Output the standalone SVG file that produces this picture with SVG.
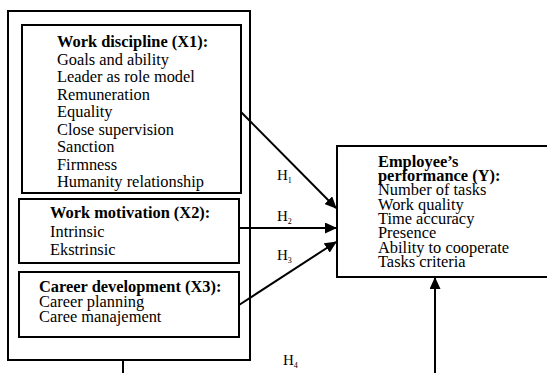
<svg xmlns="http://www.w3.org/2000/svg" width="547" height="373" viewBox="0 0 547 373">
<style>
text{font-family:"Liberation Serif","Times New Roman",serif;font-size:16.4px;fill:#000}
.b{font-weight:bold}
.box{fill:none;stroke:#000;stroke-width:2}
.ln{stroke:#000;stroke-width:2;fill:none}
.h{font-size:15px}
.s{font-size:8px}
</style>
<defs>
<marker id="a" viewBox="0 0 12 11" refX="11" refY="5.5" markerWidth="12" markerHeight="11" orient="auto" markerUnits="userSpaceOnUse">
<path d="M0,0 L12,5.5 L0,11 z" fill="#000"/>
</marker>
</defs>
<rect width="547" height="373" fill="#fff"/>
<g id="outer"><rect class="box" x="8" y="11" width="242" height="349"/></g>
<g id="x1">
<rect class="box" x="22" y="25" width="219" height="168"/>
<text x="57" y="47" class="b">Work discipline (X1):</text>
<text x="57" y="64.5">Goals and ability</text>
<text x="57" y="82">Leader as role model</text>
<text x="57" y="99.5">Remuneration</text>
<text x="57" y="117">Equality</text>
<text x="57" y="134.5">Close supervision</text>
<text x="57" y="152">Sanction</text>
<text x="57" y="169.5">Firmness</text>
<text x="57" y="187">Humanity relationship</text>
</g>
<g id="x2">
<rect class="box" x="19" y="199" width="220" height="64"/>
<text x="50" y="218" class="b">Work motivation (X2):</text>
<text x="50" y="237">Intrinsic</text>
<text x="50" y="255">Ekstrinsic</text>
</g>
<g id="x3">
<rect class="box" x="19" y="272" width="220" height="65"/>
<text x="39" y="292" class="b">Career development (X3):</text>
<text x="39" y="307">Career planning</text>
<text x="39" y="322">Caree manajement</text>
</g>
<g id="y">
<rect class="box" x="337" y="146" width="230" height="131"/>
<text x="378" y="167" class="b">Employee’s</text>
<text x="378" y="181" class="b">performance (Y):</text>
<text x="378" y="195">Number of tasks</text>
<text x="378" y="209.5">Work quality</text>
<text x="378" y="224">Time accuracy</text>
<text x="378" y="238">Presence</text>
<text x="378" y="252.5">Ability to cooperate</text>
<text x="378" y="267">Tasks criteria</text>
</g>
<g id="connectors">
<path class="ln" d="M241,112 L336,208" marker-end="url(#a)"/>
<path class="ln" d="M239,228 L336,228" marker-end="url(#a)"/>
<path class="ln" d="M239,305 L336,242" marker-end="url(#a)"/>
<path class="ln" d="M123,360 L123,373"/>
<path class="ln" d="M435,373 L435,278" marker-end="url(#a)"/>
</g>
<g id="labels">
<text x="277" y="180" class="h">H<tspan class="s" dy="3">1</tspan></text>
<text x="277" y="221" class="h">H<tspan class="s" dy="3">2</tspan></text>
<text x="277" y="260" class="h">H<tspan class="s" dy="3">3</tspan></text>
<text x="283" y="365" class="h">H<tspan class="s" dy="3">4</tspan></text>
</g>
</svg>
